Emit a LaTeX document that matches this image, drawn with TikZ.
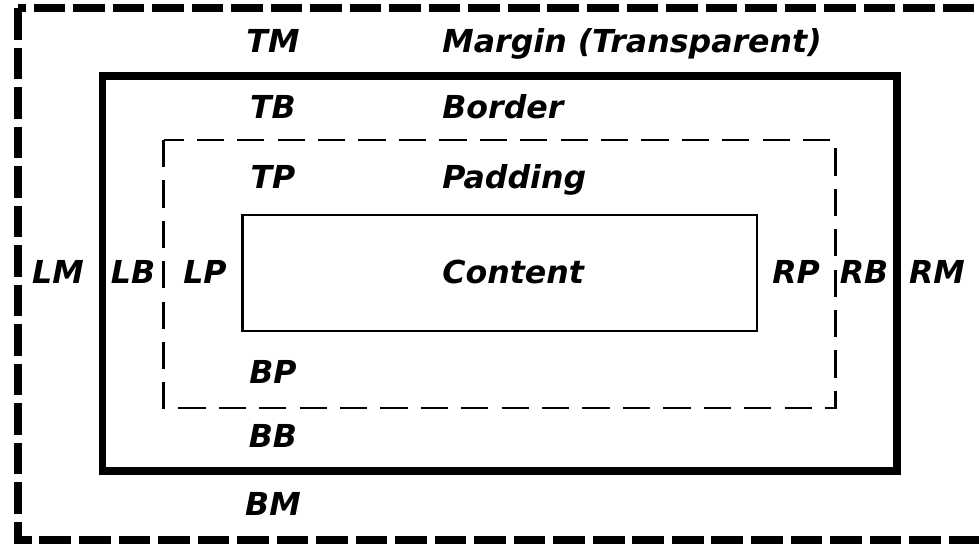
\documentclass[tikz,border=0pt]{standalone}
\usepackage{fontspec}
\setmainfont{DejaVu Sans}
\begin{document}
\begin{tikzpicture}[x=0.02cm,y=-0.02cm,font=\fontsize{18}{20}\selectfont\bfseries\itshape,
		lbl/.style={anchor=base,inner sep=0pt},
		lblw/.style={anchor=base west,inner sep=0pt}]
		\useasboundingbox (0,0) rectangle (979,544);
		% boxes
		\draw[line width=5.1pt,dash pattern=on 18pt off 4.5pt] (18,8) rectangle (992,540);
		\draw[line width=4.5pt] (102.5,76) rectangle (897,471);
		\draw[line width=1.7pt,dash pattern=on 15.5pt off 7.5pt] (163.5,140) rectangle (835,408);
		\draw[line width=1.3pt] (242.5,215) rectangle (757,331);
		% labels
		\node[lbl] (TM) at (273,52) {TM};
		\node[lbl] (TB) at (273,118) {TB};
		\node[lbl] (TP) at (273,188) {TP};
		\node[lbl] (BP) at (273,383) {BP};
		\node[lbl] (BB) at (273,447) {BB};
		\node[lbl] (BM) at (273,515) {BM};
		\node[lbl] (LM) at (58,283) {LM};
		\node[lbl] (LB) at (133,283) {LB};
		\node[lbl] (LP) at (205,283) {LP};
		\node[lbl] (RP) at (796,283) {RP};
		\node[lbl] (RB) at (864,283) {RB};
		\node[lbl] (RM) at (937,283) {RM};
		\node[lblw] (margin) at (442,52) {Margin (Transparent)};
		\node[lblw] (border) at (442,118) {Border};
		\node[lblw] (padding) at (442,188) {Padding};
		\node[lblw] (content) at (442,283) {Content};
	\end{tikzpicture}
\end{document}
